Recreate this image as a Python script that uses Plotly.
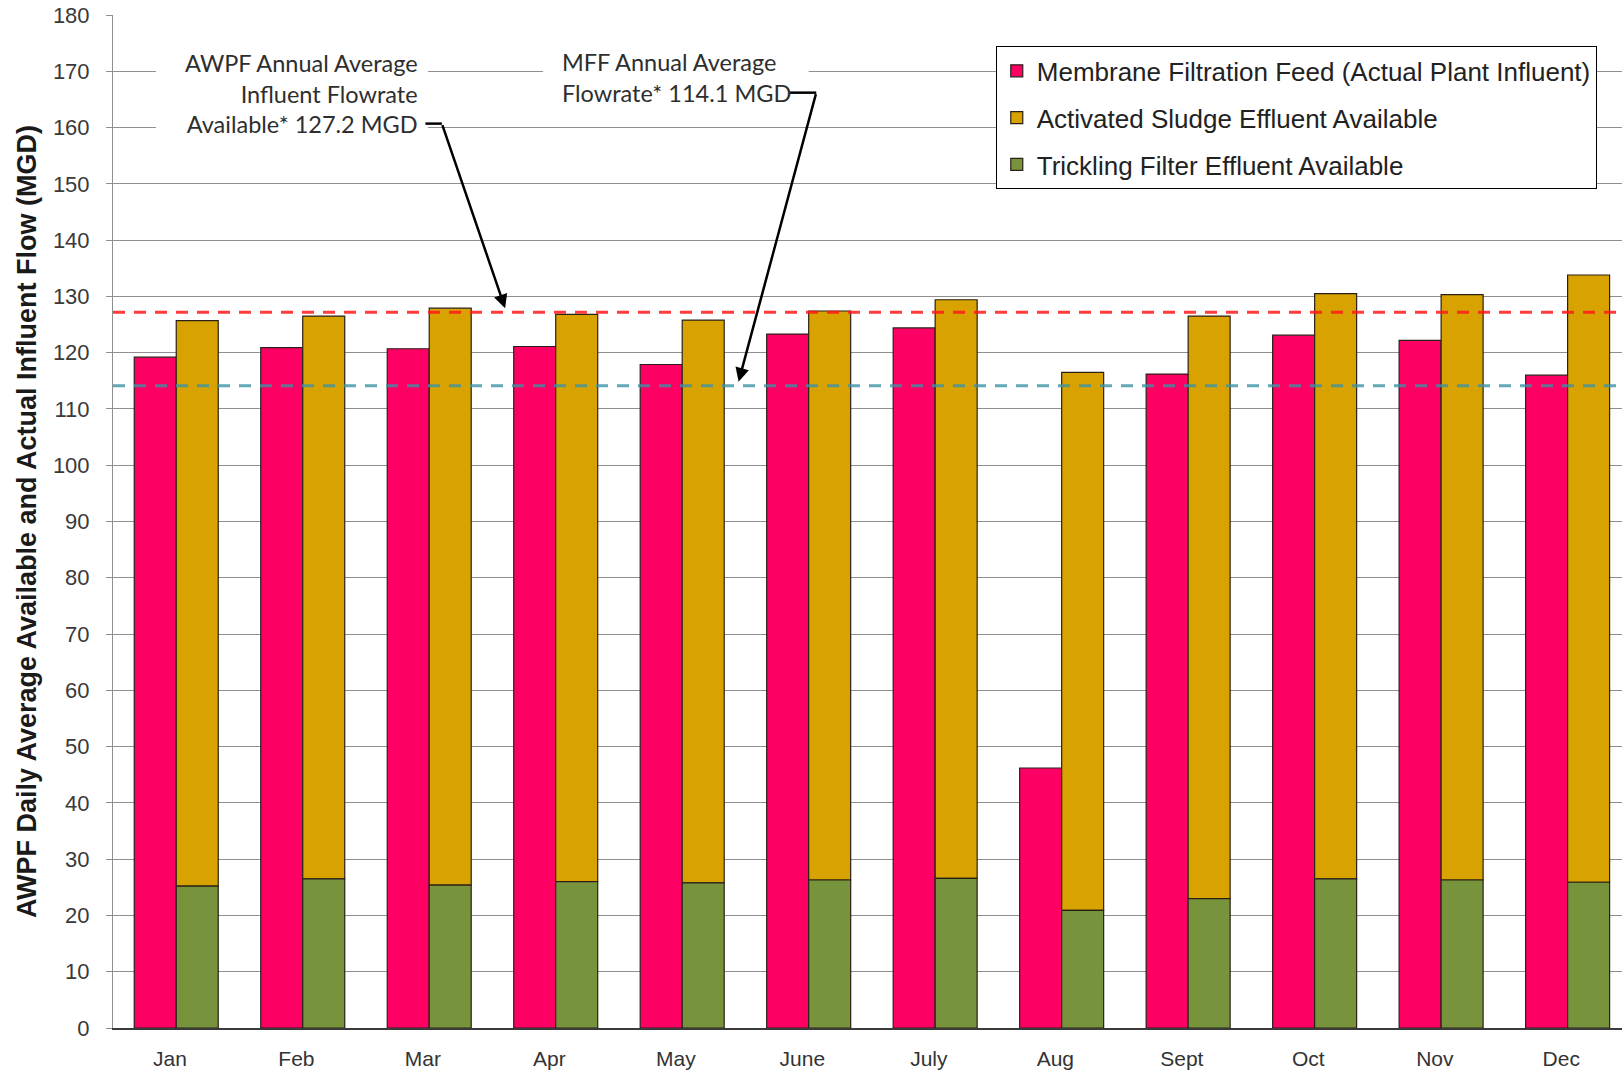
import plotly.graph_objects as go

# Monthly flows (MGD)
months = ["Jan", "Feb", "Mar", "Apr", "May", "June", "July", "Aug", "Sept", "Oct", "Nov", "Dec"]
membrane_feed = [119.2, 120.9, 120.7, 121.1, 117.9, 123.3, 124.4, 46.2, 116.2, 123.1, 122.2, 116.0]
activated_sludge = [100.5, 100.0, 102.5, 100.8, 100.0, 101.1, 102.8, 95.6, 103.5, 104.0, 104.0, 107.9]
trickling_filter = [25.2, 26.5, 25.4, 26.0, 25.8, 26.3, 26.6, 20.9, 23.0, 26.5, 26.3, 25.9]

# Annual averages shown as reference lines
awpf_annual_avg = 127.2
mff_annual_avg = 114.1

y_ticks = list(range(0, 181, 10))

x_idx = list(range(len(months)))
BAR_W = 0.332
PINK = "#fe0064"
GOLD = "#d8a300"
GREEN = "#77933c"
OUTLINE = dict(color="#2a2018", width=1.2)

fig = go.Figure()

fig.add_trace(go.Bar(
    x=x_idx, y=membrane_feed, width=BAR_W, offset=-BAR_W,
    marker=dict(color=PINK, line=OUTLINE),
    name="Membrane Filtration Feed (Actual Plant Influent)", legendgroup="mf",
))
fig.add_trace(go.Bar(
    x=x_idx, y=activated_sludge, base=trickling_filter, width=BAR_W, offset=0,
    marker=dict(color=GOLD, line=OUTLINE),
    name="Activated Sludge Effluent Available", legendgroup="as",
))
fig.add_trace(go.Bar(
    x=x_idx, y=trickling_filter, base=0, width=BAR_W, offset=0,
    marker=dict(color=GREEN, line=OUTLINE),
    name="Trickling Filter Effluent Available", legendgroup="tf",
))

# Dashed annual-average lines
fig.add_trace(go.Scatter(
    x=[-0.5, 11.5], y=[awpf_annual_avg] * 2, mode="lines",
    line=dict(color="#ff1a1a", width=3, dash="12px,9px"),
    opacity=0.85, showlegend=False, hoverinfo="skip",
))
fig.add_trace(go.Scatter(
    x=[-0.5, 11.5], y=[mff_annual_avg] * 2, mode="lines",
    line=dict(color="#3b93a5", width=3, dash="12px,9px"),
    opacity=0.8, showlegend=False, hoverinfo="skip",
))

CALLOUT_FONT = dict(family="Lato, Open Sans, sans-serif", size=23.5, color="#2e2e2e")

shapes = [
    # white backing boxes behind the callout text (above gridlines, below bars)
    dict(type="rect", xref="x", yref="y", x0=-0.16, x1=1.99, y0=157, y1=176,
         fillcolor="white", line=dict(width=0), layer="between"),
    dict(type="rect", xref="x", yref="y", x0=2.9, x1=5.0, y0=164, y1=176,
         fillcolor="white", line=dict(width=0), layer="between"),
    # short leader stubs after the callout text
    dict(type="line", xref="x", yref="y", x0=1.97, x1=2.10, y0=160.7, y1=160.7,
         line=dict(color="black", width=2.5), layer="above"),
    dict(type="line", xref="x", yref="y", x0=4.85, x1=5.06, y0=166.2, y1=166.2,
         line=dict(color="black", width=2.5), layer="above"),
]

annotations = [
    dict(x=1.93, y=166.1, xref="x", yref="y", xanchor="right", yanchor="middle",
         align="right", showarrow=False, font=CALLOUT_FONT,
         text=f"AWPF Annual Average<br>Influent Flowrate<br>Available* {awpf_annual_avg} MGD"),
    dict(x=3.03, y=168.9, xref="x", yref="y", xanchor="left", yanchor="middle",
         align="left", showarrow=False, font=CALLOUT_FONT,
         text=f"MFF Annual Average<br>Flowrate* {mff_annual_avg} MGD"),
    dict(x=2.6, y=awpf_annual_avg + 0.7, ax=2.10, ay=160.7, xref="x", yref="y",
         axref="x", ayref="y", text="", showarrow=True, arrowhead=2,
         arrowsize=1.1, arrowwidth=2.5, arrowcolor="black", standoff=0, startstandoff=0),
    dict(x=4.446, y=mff_annual_avg + 0.75, ax=5.06, ay=166.2, xref="x", yref="y",
         axref="x", ayref="y", text="", showarrow=True, arrowhead=2,
         arrowsize=1.1, arrowwidth=2.5, arrowcolor="black", standoff=0, startstandoff=0),
]

fig.update_layout(
    width=1622, height=1073,
    margin=dict(l=113, r=0, t=15, b=45, autoexpand=False),
    paper_bgcolor="white", plot_bgcolor="white",
    barmode="overlay",
    font=dict(family="Liberation Sans, Arial, sans-serif", color="#333333"),
    shapes=shapes,
    annotations=annotations,
    legend=dict(
        x=0.585, y=0.969, xanchor="left", yanchor="top",
        bgcolor="white", bordercolor="black", borderwidth=1,
        font=dict(family="Liberation Sans, Arial, sans-serif", size=26, color="#222222"),
        traceorder="grouped", tracegroupgap=10,
    ),
    xaxis=dict(
        range=[-0.5, 11.43],
        tickvals=[i - 0.05 for i in x_idx], ticktext=months,
        showgrid=False, zeroline=False,
        showline=True, linecolor="#3a3a3a", linewidth=1.5,
        ticks="", ticklabelstandoff=11,
        tickfont=dict(size=21, color="#333333"),
        automargin=False, fixedrange=True,
    ),
    yaxis=dict(
        range=[0, 180], tickvals=y_ticks,
        showgrid=True, gridcolor="#8f8f8f", gridwidth=1,
        zeroline=False,
        showline=True, linecolor="#8f8f8f", linewidth=1,
        ticks="outside", ticklen=6, tickcolor="#8f8f8f",
        ticklabelstandoff=12,
        tickfont=dict(size=22, color="#3a3a3a"),
        title=dict(
            text="AWPF Daily Average Available and Actual Influent Flow (MGD)",
            font=dict(size=27, color="#1a1a1a", family="Liberation Sans, Arial, sans-serif", weight="bold"),
            standoff=8,
        ),
        automargin=False, fixedrange=True,
    ),
)

fig.write_html("out.html")
